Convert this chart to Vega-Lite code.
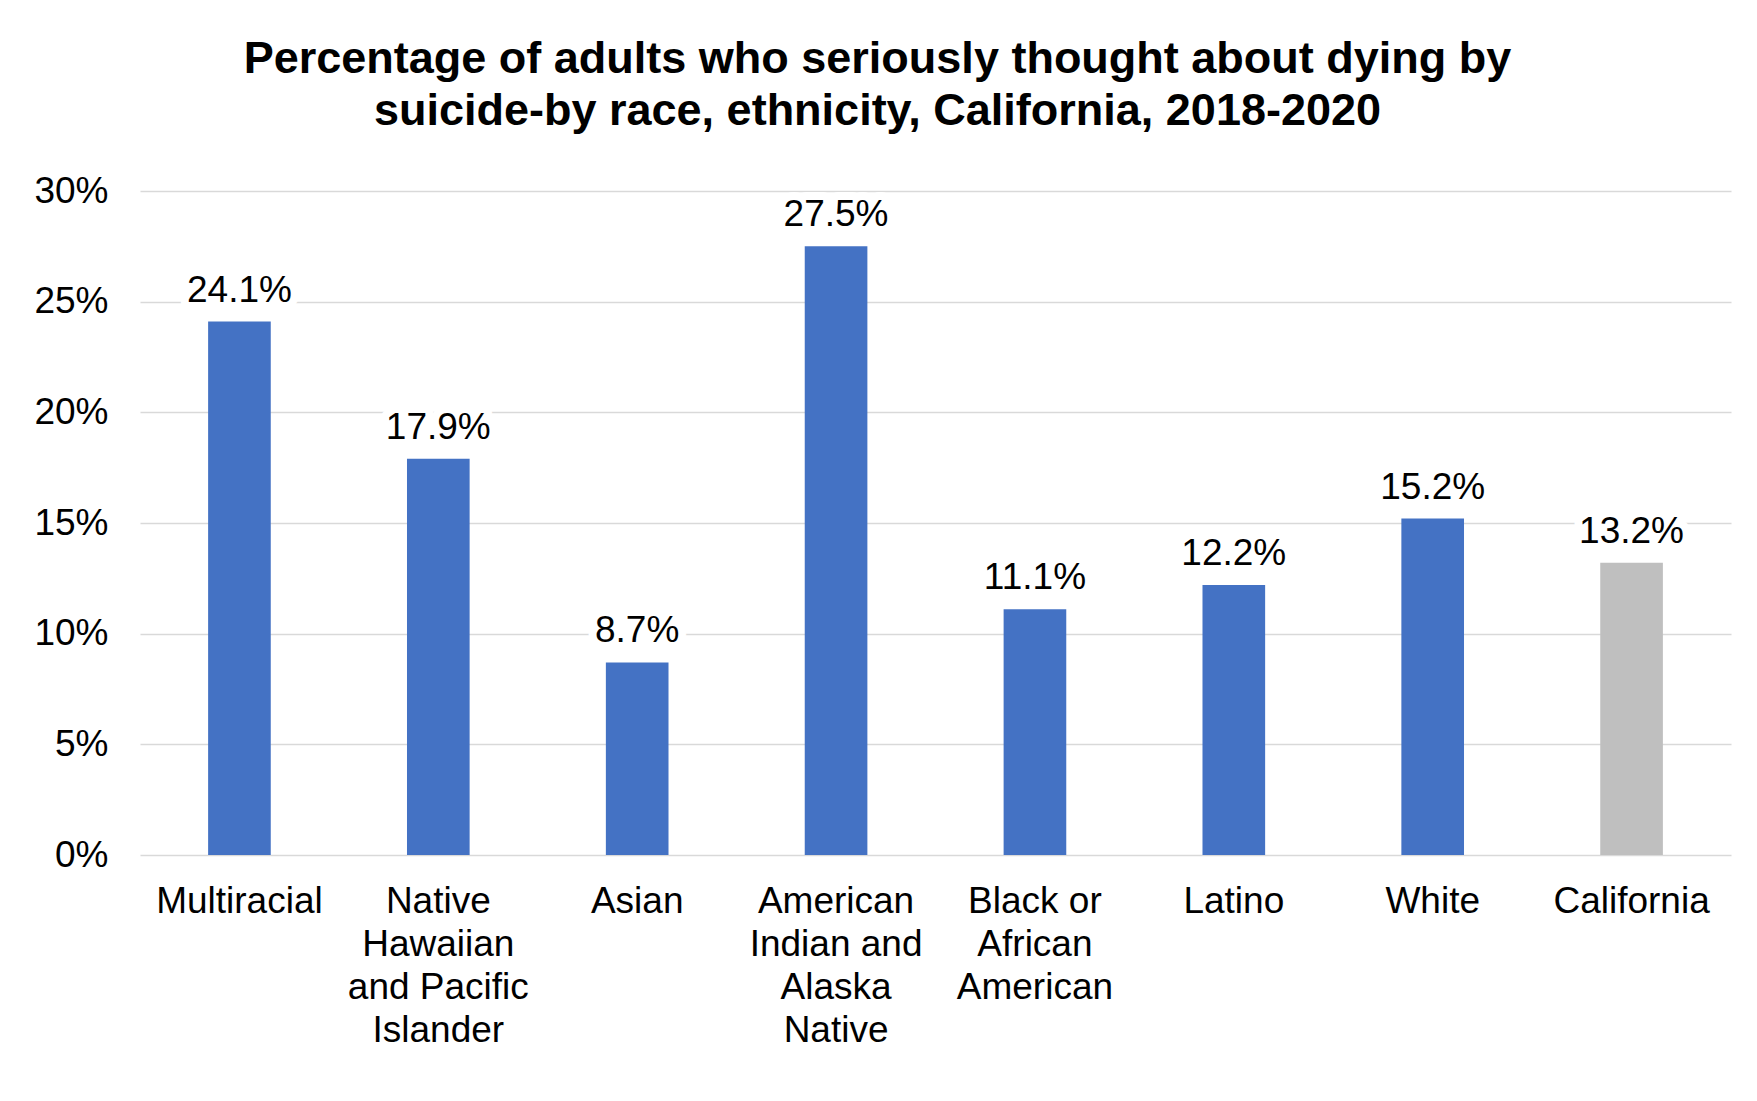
{
  "$schema": "https://vega.github.io/schema/vega-lite/v6.json",
  "autosize": {"type": "none"},
  "width": 1591,
  "height": 664,
  "padding": {"left": 140, "top": 191, "right": 26, "bottom": 246},
  "background": "#FFFFFF",
  "config": {
    "font": "Liberation Sans",
    "view": {"stroke": null}
  },
  "title": {
    "text": ["Percentage of adults who seriously thought about dying by", "suicide-by race, ethnicity, California, 2018-2020"],
    "font": "Liberation Sans",
    "fontSize": 45,
    "fontWeight": "bold",
    "color": "#000000",
    "lineHeight": 52,
    "anchor": "middle",
    "dx": -58,
    "offset": 38
  },
  "data": {
    "values": [
      {"race": "Multiracial", "pct": 0.241},
      {"race": "Native Hawaiian and Pacific Islander", "pct": 0.179},
      {"race": "Asian", "pct": 0.087},
      {"race": "American Indian and Alaska Native", "pct": 0.275},
      {"race": "Black or African American", "pct": 0.111},
      {"race": "Latino", "pct": 0.122},
      {"race": "White", "pct": 0.152},
      {"race": "California", "pct": 0.132}
    ]
  },
  "encoding": {
    "x": {
      "field": "race",
      "type": "nominal",
      "sort": null,
      "scale": {"paddingInner": 0.685, "paddingOuter": 0.3425},
      "axis": {
        "title": null,
        "labelAngle": 0,
        "labelFont": "Liberation Sans",
        "labelFontSize": 37,
        "labelColor": "#000000",
        "labelLineHeight": 43,
        "labelPadding": 28,
        "labelLimit": 400,
        "ticks": false,
        "domain": false,
        "grid": false,
        "labelExpr": "({'Native Hawaiian and Pacific Islander': ['Native', 'Hawaiian', 'and Pacific', 'Islander'], 'American Indian and Alaska Native': ['American', 'Indian and', 'Alaska', 'Native'], 'Black or African American': ['Black or', 'African', 'American']})[datum.value] || datum.value"
      }
    },
    "y": {
      "field": "pct",
      "type": "quantitative",
      "scale": {"domain": [0, 0.3], "nice": false},
      "axis": {
        "title": null,
        "format": ".0%",
        "values": [0, 0.05, 0.1, 0.15, 0.2, 0.25, 0.3],
        "labelFont": "Liberation Sans",
        "labelFontSize": 37,
        "labelColor": "#000000",
        "labelPadding": 32,
        "ticks": false,
        "domain": false,
        "grid": true,
        "gridColor": "#D9D9D9",
        "gridWidth": 1.6
      }
    }
  },
  "layer": [
    {
      "mark": {"type": "bar"},
      "encoding": {
        "color": {
          "condition": {"test": "datum.race === 'California'", "value": "#BFBFBF"},
          "value": "#4472C4"
        }
      }
    },
    {
      "mark": {
        "type": "text",
        "baseline": "alphabetic",
        "dy": -20,
        "font": "Liberation Sans",
        "fontSize": 37,
        "fill": "#FFFFFF",
        "stroke": "#FFFFFF",
        "strokeWidth": 16,
        "strokeJoin": "round"
      },
      "encoding": {"text": {"field": "pct", "type": "quantitative", "format": ".1%"}}
    },
    {
      "mark": {
        "type": "text",
        "baseline": "alphabetic",
        "dy": -20,
        "font": "Liberation Sans",
        "fontSize": 37,
        "color": "#000000"
      },
      "encoding": {"text": {"field": "pct", "type": "quantitative", "format": ".1%"}}
    }
  ]
}
